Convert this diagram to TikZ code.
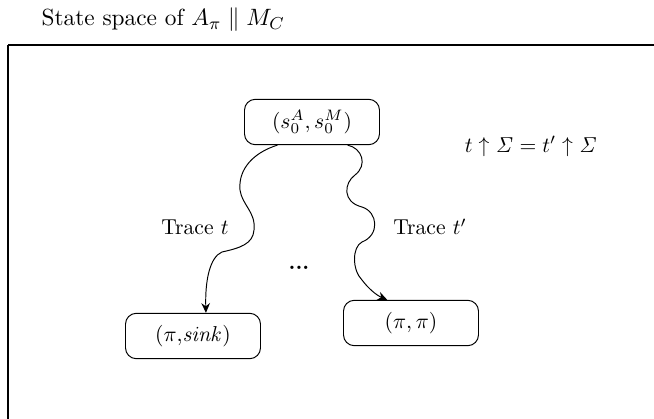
\documentclass[tikz,border=0pt]{standalone}
\usetikzlibrary{arrows.meta}
\begin{document}
\begin{tikzpicture}[x=0.463pt,y=-0.463pt,
  statebox/.style={draw,rounded corners=5pt,line width=0.45pt,minimum width=62.5pt,minimum height=21pt,inner sep=0pt},
  trace/.style={line width=0.45pt,-{Stealth[length=4.5pt,width=4pt,inset=1.5pt]}},
  frame/.style={line width=0.9pt}]
\useasboundingbox (0,0) rectangle (654,419);
\clip (0,0) rectangle (654,419);
\node[anchor=west,font=\fontsize{10.8}{13}\selectfont] (title) at (34,20) {State space of $A_\pi \parallel M_C$};
\draw[frame] (8,45) -- (670,45) (8,45) -- (8,430);
\node[statebox] (top) at (312,122) {$(s_0^A, s_0^M)$};
\node[statebox] (sink) at (193,336) {$(\pi{,}\mathit{sink})$};
\node[statebox] (pp) at (411,323) {$(\pi, \pi)$};
\draw[trace] ([xshift=-16pt]top.south) .. controls (255,152) and (238,168) .. (240,190)
  .. controls (242,205) and (256,212) .. (254,230)
  .. controls (253,244) and (240,248) .. (222,252)
  .. controls (210,257) and (205,280) .. ([xshift=6pt]sink.north);
\draw[trace] ([xshift=16.5pt]top.south) .. controls (362,148) and (368,165) .. (355,175)
  .. controls (344,183) and (342,202) .. (362,207)
  .. controls (378,212) and (380,235) .. (362,242)
  .. controls (352,247) and (352,270) .. (362,280)
  .. controls (368,288) and (376,295) .. ([xshift=-11pt]pp.north);
\node (lt) at (195,227) {Trace $t$};
\node (rt) at (430,227) {Trace $t'$};
\node (dots) at (299,268) {\textbf{...}};
\node (eq) at (531,146) {$t \uparrow \mathit{\Sigma} = t' \uparrow \mathit{\Sigma}$};
\end{tikzpicture}
\end{document}
